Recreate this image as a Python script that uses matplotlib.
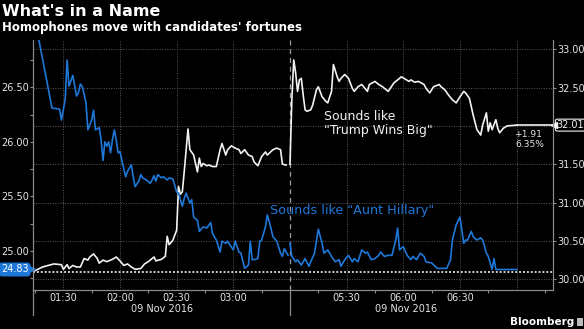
import matplotlib
matplotlib.use("Agg")
import matplotlib.pyplot as plt
import matplotlib.transforms as mtransforms
from matplotlib.patches import Rectangle
from matplotlib.ticker import FixedLocator, FormatStrFormatter, FuncFormatter, MultipleLocator

# "Aunt Hillary" contract (left axis), intraday 09 Nov 2016
hillary_times = [
    "01:15", "01:24", "01:28", "01:29", "01:31", "01:32", "01:33", "01:35", "01:37", "01:38",
    "01:39", "01:40", "01:42", "01:43", "01:45", "01:46", "01:47", "01:49", "01:50", "01:51",
    "01:52", "01:53", "01:54", "01:55", "01:56", "01:57", "01:58", "01:59", "02:00", "02:01",
    "02:03", "02:04", "02:06", "02:07", "02:08", "02:10", "02:11", "02:12", "02:14", "02:16",
    "02:17", "02:18", "02:19", "02:20", "02:22", "02:23", "02:25", "02:26", "02:28", "02:30",
    "02:31", "02:33", "02:34", "02:35", "02:37", "02:38", "02:39", "02:41", "02:42", "02:44",
    "02:46", "02:48", "02:49", "02:51", "02:53", "02:54", "02:56", "02:57", "02:58", "03:00",
    "03:01", "03:03", "03:04", "03:06", "03:08", "03:09", "03:10", "03:11", "03:13", "03:14",
    "03:15", "03:17", "03:18", "03:19", "03:21", "03:23", "03:25", "03:26", "03:27", "03:29",
    "05:00", "05:01", "05:03", "05:04", "05:06", "05:08", "05:10", "05:11", "05:13", "05:15",
    "05:17", "05:18", "05:20", "05:22", "05:24", "05:26", "05:27", "05:29", "05:31", "05:33",
    "05:34", "05:36", "05:38", "05:40", "05:41", "05:43", "05:45", "05:47", "05:48", "05:50",
    "05:52", "05:54", "05:56", "05:57", "05:58", "06:00", "06:02", "06:04", "06:05", "06:07",
    "06:09", "06:11", "06:12", "06:15", "06:18", "06:23", "06:25", "06:26", "06:28", "06:30",
    "06:31", "06:32", "06:33", "06:34", "06:36", "06:37", "06:39", "06:41", "06:42", "06:44",
    "06:45", "06:47", "06:48", "06:49", "07:00",
]
hillary_values = [
    27.12, 26.31, 26.30, 26.20, 26.39, 26.75, 26.51, 26.61, 26.42, 26.45,
    26.53, 26.51, 26.36, 26.11, 26.20, 26.29, 26.11, 26.13, 26.02, 25.83,
    26.00, 25.96, 26.00, 25.90, 26.02, 26.11, 26.02, 25.90, 25.91, 25.83,
    25.68, 25.73, 25.79, 25.68, 25.59, 25.64, 25.70, 25.67, 25.65, 25.62,
    25.65, 25.69, 25.64, 25.70, 25.67, 25.68, 25.65, 25.67, 25.66, 25.54,
    25.53, 25.41, 25.48, 25.53, 25.44, 25.47, 25.31, 25.28, 25.18, 25.22,
    25.21, 25.26, 25.16, 25.10, 24.99, 25.09, 25.07, 25.09, 25.06, 25.01,
    25.09, 24.99, 24.98, 24.84, 24.87, 25.09, 24.92, 24.92, 24.93, 25.09,
    25.10, 25.22, 25.33, 25.27, 25.13, 25.09, 24.98, 24.95, 25.02, 24.96,
    25.07, 24.95, 24.90, 24.92, 24.87, 24.93, 24.86, 24.90, 24.98, 25.20,
    25.07, 24.98, 25.01, 24.95, 24.90, 24.92, 24.86, 24.92, 24.96, 24.90,
    24.93, 24.90, 25.01, 24.98, 24.99, 24.92, 24.93, 24.96, 24.99, 24.95,
    24.96, 24.96, 25.10, 25.21, 25.01, 25.04, 24.96, 24.92, 24.95, 24.92,
    24.98, 24.95, 24.90, 24.89, 24.84, 24.84, 24.92, 25.10, 25.24, 25.31,
    25.19, 25.07, 25.10, 25.10, 25.18, 25.13, 25.10, 25.12, 25.10, 24.98,
    24.95, 24.83, 24.93, 24.83, 24.83,
]

# "Trump Wins Big" contract (right axis)
trump_times = [
    "01:14", "01:19", "01:25", "01:29", "01:30", "01:32", "01:33", "01:35", "01:37", "01:39",
    "01:41", "01:43", "01:44", "01:46", "01:48", "01:49", "01:51", "01:53", "01:56", "01:58",
    "02:00", "02:02", "02:04", "02:06", "02:08", "02:11", "02:13", "02:15", "02:18", "02:19",
    "02:22", "02:24", "02:25", "02:26", "02:28", "02:30", "02:31", "02:32", "02:33", "02:34",
    "02:36", "02:37", "02:39", "02:41", "02:42", "02:43", "02:44", "02:46", "02:47", "02:49",
    "02:51", "02:53", "02:54", "02:56", "02:57", "02:59", "03:01", "03:03", "03:04", "03:06",
    "03:08", "03:10", "03:11", "03:13", "03:15", "03:17", "03:18", "03:21", "03:23", "03:25",
    "03:26", "03:28",
    "05:00", "05:01", "05:02", "05:03", "05:04", "05:05", "05:06", "05:07", "05:08", "05:09",
    "05:11", "05:12", "05:14", "05:15", "05:17", "05:19", "05:20", "05:22", "05:23", "05:25",
    "05:26", "05:27", "05:29", "05:31", "05:33", "05:34", "05:36", "05:38", "05:39", "05:41",
    "05:42", "05:45", "05:47", "05:49", "05:52", "05:55", "05:57", "05:59", "06:01", "06:03",
    "06:04", "06:06", "06:08", "06:11", "06:12", "06:14", "06:16", "06:19", "06:20", "06:22",
    "06:24", "06:26", "06:28", "06:30", "06:32", "06:33", "06:35", "06:37", "06:39", "06:41",
    "06:42", "06:44", "06:45", "06:46", "06:47", "06:49", "06:50", "06:51", "06:53", "06:55",
    "07:00",
]
trump_values = [
    30.10, 30.16, 30.20, 30.19, 30.13, 30.19, 30.14, 30.18, 30.16, 30.16,
    30.27, 30.25, 30.29, 30.33, 30.27, 30.21, 30.25, 30.23, 30.26, 30.29,
    30.24, 30.18, 30.20, 30.16, 30.13, 30.14, 30.20, 30.23, 30.29, 30.24,
    30.26, 30.30, 30.56, 30.45, 30.51, 30.64, 31.21, 31.11, 31.14, 31.40,
    31.96, 31.69, 31.62, 31.40, 31.58, 31.47, 31.51, 31.48, 31.49, 31.47,
    31.47, 31.69, 31.77, 31.62, 31.69, 31.74, 31.71, 31.69, 31.64, 31.69,
    31.62, 31.60, 31.53, 31.48, 31.60, 31.66, 31.62, 31.69, 31.71, 31.69,
    31.50, 31.49,
    31.50, 32.35, 32.86, 32.69, 32.45, 32.60, 32.62, 32.40, 32.21, 32.19,
    32.21, 32.27, 32.47, 32.51, 32.38, 32.32, 32.30, 32.45, 32.80, 32.64,
    32.58, 32.62, 32.67, 32.62, 32.49, 32.45, 32.51, 32.54, 32.51, 32.45,
    32.54, 32.58, 32.54, 32.51, 32.45, 32.56, 32.60, 32.64, 32.61, 32.58,
    32.60, 32.57, 32.58, 32.54, 32.49, 32.43, 32.51, 32.54, 32.51, 32.47,
    32.40, 32.34, 32.30, 32.38, 32.45, 32.43, 32.36, 32.14, 31.95, 31.88,
    32.01, 32.17, 31.93, 32.04, 31.95, 32.08, 31.97, 31.91, 31.97, 32.00,
    32.01,
]

major_times = ["01:30", "02:00", "02:30", "03:00", "05:30", "06:00", "06:30", "07:00"]
major_labels = ["01:30", "02:00", "02:30", "03:00", "05:30", "06:00", "06:30", ""]
minor_times = ["01:15", "01:45", "02:15", "02:45", "03:15", "05:15", "05:45", "06:15", "06:45", "07:15"]
date_label = "09 Nov 2016"

BG = "black"
BLUE = "#1e78d8"
WHITE = "#f2f2f2"
AXIS = "#8c8c8c"
GRID = "#5a5a5a"
TEXT = "#e6e6e6"

# the session pause between 03:30 and 05:00 is squeezed out of the axis
SESSION_BREAK = 210
SESSION_RESUME = 300


def to_x(hhmm):
    h, m = (int(p) for p in hhmm.split(":"))
    t = h * 60 + m
    if t >= SESSION_RESUME:
        t -= SESSION_RESUME - SESSION_BREAK
    return t


def split_sessions(xs, ys):
    a = [(x, y) for x, y in zip(xs, ys) if x < SESSION_BREAK]
    b = [(x, y) for x, y in zip(xs, ys) if x >= SESSION_BREAK]
    return a, b


W, H = 584, 329
plt.rcParams["font.family"] = "DejaVu Sans"
fig = plt.figure(figsize=(W / 100, H / 100), dpi=100, facecolor=BG)

x0, x1, y_top, y_bot = 33.3, 552.7, 40.0, 290.0
axr = fig.add_axes([x0 / W, 1 - y_bot / H, (x1 - x0) / W, (y_bot - y_top) / H])
axr.set_facecolor(BG)
axl = axr.twinx()
axl.yaxis.tick_left()

xmin, xmax = 74.1, 349.1
for a in (axr, axl):
    a.set_xlim(xmin, xmax)
    for s in a.spines.values():
        s.set_color(AXIS)
        s.set_linewidth(0.8)
    a.spines["top"].set_visible(False)

axr.set_ylim(29.86, 33.12)
axl.set_ylim(24.642, 26.934)

last_trump = trump_values[-1]
last_hillary = hillary_values[-1]

# right axis drives the horizontal grid; its label under the last-value tag is dropped
axr.yaxis.tick_right()
axr.yaxis.set_major_locator(MultipleLocator(0.5))
axr.yaxis.set_major_formatter(
    FuncFormatter(lambda v, _: "" if abs(v - last_trump) < 0.1 else f"{v:.2f}"))
axl.yaxis.set_major_locator(MultipleLocator(0.5))
axl.yaxis.set_minor_locator(MultipleLocator(0.25))
axl.yaxis.set_major_formatter(FormatStrFormatter("%.2f"))

axr.xaxis.set_major_locator(FixedLocator([to_x(t) for t in major_times]))
axr.set_xticklabels(major_labels)
axr.xaxis.set_minor_locator(FixedLocator([to_x(t) for t in minor_times]))
axr.tick_params(axis="x", which="major", length=0, pad=2.5, labelsize=7, labelcolor=TEXT)
axr.tick_params(axis="x", which="minor", length=2.5, width=0.8, color=AXIS, direction="out")
axr.tick_params(axis="y", which="major", length=2.2, width=0.8, color=AXIS, pad=1,
                labelsize=7, labelcolor=TEXT, labelright=True, labelleft=False)
axl.tick_params(axis="y", which="both", length=2.2, width=0.8, color=AXIS, pad=1,
                labelsize=7, labelcolor=TEXT)
axl.tick_params(axis="x", which="both", length=0, labelbottom=False)

axr.grid(True, which="major", color=GRID, linestyle=(0, (1, 1.5)), linewidth=0.7)
axr.set_axisbelow(True)

# session break marker, carried down through the date row
axr.axvline(SESSION_BREAK, color="#9a9a9a", linestyle=(0, (4, 3)), linewidth=0.9)
blend_r = mtransforms.blended_transform_factory(axr.transData, axr.transAxes)
axr.plot([SESSION_BREAK, SESSION_BREAK], [0, -0.1], color=AXIS, lw=0.9,
         transform=blend_r, clip_on=False)
axr.plot([xmin, xmin], [0, -0.1], color=AXIS, lw=0.9, transform=blend_r, clip_on=False)

# last-value reference line of the left series
axl.axhline(last_hillary - 0.02, color="#d0d0d0", linestyle=(0, (1, 1)), linewidth=1.4)

tx = [to_x(t) for t in trump_times]
hx = [to_x(t) for t in hillary_times]

for seg in split_sessions(tx, trump_values):
    axr.plot([p[0] for p in seg], [p[1] for p in seg], color=WHITE, lw=1.2, zorder=3)
axr.plot([tx[-1], xmax], [last_trump, last_trump], color=WHITE, lw=1.2,
         clip_on=False, zorder=3)
for seg in split_sessions(hx, hillary_values):
    axl.plot([p[0] for p in seg], [p[1] for p in seg], color=BLUE, lw=1.2, zorder=3)

# series captions
axr.text(to_x("05:18"), 32.03, 'Sounds like\n"Trump Wins Big"', color=WHITE,
         fontsize=9.0, ha="left", va="center", linespacing=1.15)
axl.text(199.4, 25.37, 'Sounds like "Aunt Hillary"', color=BLUE, fontsize=9.2,
         ha="left", va="center")

# change since open for the right series
chg = last_trump - trump_values[0]
pct = chg / trump_values[0] * 100
axr.annotate(f"{chg:+.2f}\n{pct:.2f}%", xy=(tx[-1], last_trump),
             xytext=(-1, -3.5), textcoords="offset points", ha="left", va="top",
             color=TEXT, fontsize=6.6, linespacing=1.15)

# last-value tags on both axes
blend_l = mtransforms.blended_transform_factory(axl.transAxes, axl.transData)
axl.annotate(f"{last_hillary:.2f}", xy=(0, last_hillary), xycoords=blend_l,
             xytext=(-3.4, 0), textcoords="offset points", ha="right", va="center",
             color="white", fontsize=7,
             bbox=dict(boxstyle="round,pad=0.13,rounding_size=0.25", fc=BLUE, ec=BLUE))
axl.plot([-0.003], [last_hillary], marker=">", ms=4, color=BLUE, mec=BLUE,
         transform=blend_l, clip_on=False)

blend_rr = mtransforms.blended_transform_factory(axr.transAxes, axr.transData)
axr.annotate(f"{last_trump:.2f}", xy=(1, last_trump), xycoords=blend_rr,
             xytext=(2.6, 0), textcoords="offset points", ha="left", va="center",
             color=WHITE, fontsize=7,
             bbox=dict(boxstyle="round,pad=0.1,rounding_size=0.2", fc=BG, ec=WHITE, lw=0.8))
axr.plot([1.003], [last_trump], marker="<", ms=4, color=WHITE,
         transform=blend_rr, clip_on=False, zorder=5)

# date under each session
fig.text(161.7 / W, 1 - 309 / H, date_label, color=TEXT, fontsize=7, ha="center", va="center")
fig.text(406 / W, 1 - 309 / H, date_label, color=TEXT, fontsize=7, ha="center", va="center")

# headline
fig.text(2 / W, 1 - 12 / H, "What's in a Name", color="white", fontsize=11.5,
         fontweight="bold", ha="left", va="center")
fig.text(2 / W, 1 - 28 / H, "Homophones move with candidates' fortunes", color="white",
         fontsize=8.5, fontweight="bold", ha="left", va="center")

# source mark
fig.text(574 / W, 1 - 322 / H, "Bloomberg", color="white", fontsize=7.5,
         fontweight="bold", ha="right", va="center")
fig.patches.append(Rectangle((576.5 / W, 1 - 326 / H), 6 / W, 8 / H,
                             transform=fig.transFigure, fc="#bdbdbd", ec="none"))

fig.savefig("out.png", dpi=100, facecolor=BG)
